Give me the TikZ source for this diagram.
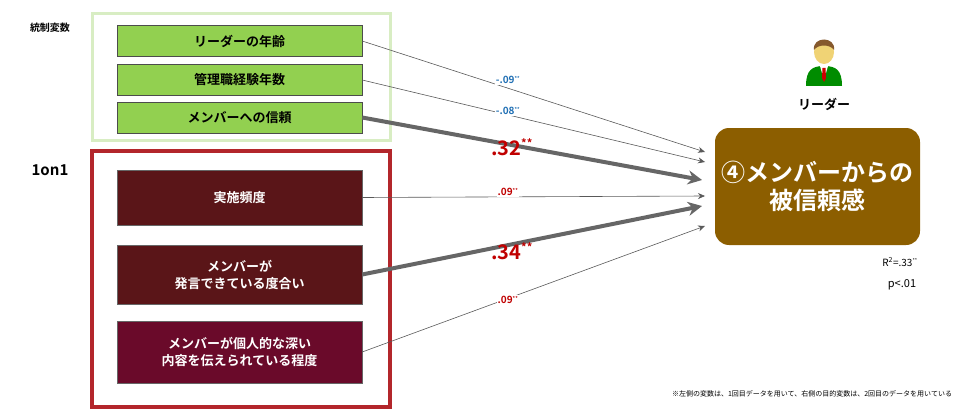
\documentclass[tikz,border=0pt]{standalone}
\usepackage{fontspec}
\setmainfont{Noto Sans CJK JP}[BoldFont={* Bold}]
\usetikzlibrary{arrows.meta}
\definecolor{lg}{HTML}{D8EDC3}
\definecolor{gbox}{HTML}{92D050}
\definecolor{rframe}{HTML}{B3262B}
\definecolor{dbox}{HTML}{5A1518}
\definecolor{dbox2}{HTML}{6A0A2A}
\definecolor{brn}{HTML}{8C5E00}
\definecolor{blu}{HTML}{1F6FB4}
\definecolor{rd}{HTML}{C00000}
\tikzset{
 gb/.style={draw=black!70,fill=gbox,minimum width=245pt,minimum height=31pt,font=\bfseries\fontsize{13}{15}\selectfont,inner sep=0},
 db/.style={draw=black!60,fill=dbox,text=white,minimum width=245pt,align=center,font=\bfseries\fontsize{13}{17}\selectfont,inner sep=0},
 thin/.style={draw=gray!70!black,line width=0.6pt,-{Stealth[length=7pt,width=6pt]}},
 thk/.style={draw=black!60,line width=4pt,-{Stealth[length=14pt,width=14pt]}},
 sl/.style={font=\bfseries\fontsize{10}{12}\selectfont},
 bl/.style={font=\bfseries\fontsize{20}{22}\selectfont,text=rd},
}
\begin{document}
\begin{tikzpicture}[x=1pt,y=-1pt]
\useasboundingbox (0,0) rectangle (980,420);
\draw[lg,line width=3pt] (92,14) rectangle (390,140);
\draw[rframe,line width=4pt] (92,151) rectangle (390,407);
\node[font=\bfseries\fontsize{10}{12}\selectfont] (t1) at (50,28) {統制変数};
\node[font=\bfseries\fontsize{15}{17}\selectfont] (t2) at (50,170) {1on1};
\node[gb] (a) at (239.5,41) {リーダーの年齢};
\node[gb] (b) at (239.5,80) {管理職経験年数};
\node[gb] (c) at (239.5,117.5) {メンバーへの信頼};
\node[db,minimum height=55pt] (d) at (239.5,197.5) {実施頻度};
\node[db,minimum height=59pt] (e) at (239.5,274.5) {メンバーが\\発言できている度合い};
\node[db,fill=dbox2,minimum height=62pt] (f) at (239.5,352) {メンバーが個人的な深い\\内容を伝えられている程度};
\node[fill=brn,rounded corners=14pt,minimum width=205pt,minimum height=117pt,text=white,align=center,font=\bfseries\fontsize{24}{28}\selectfont] (g) at (817.5,186.5) {④メンバーからの\\被信頼感};
\coordinate (g1) at (705,152);
\coordinate (g2) at (705,162);
\coordinate (g3) at (702,180);
\coordinate (g4) at (705,196);
\coordinate (g5) at (702,206);
\coordinate (g6) at (705,226);
\draw[thin] (a.east) -- (g1);
\draw[thin] (b.east) -- (g2);
\draw[thk] (c.east) -- (g3);
\draw[thin] (d.east) -- (g4);
\draw[thk] (e.east) -- (g5);
\draw[thin] (f.east) -- (g6);
\node[sl,text=blu,fill=white,inner sep=1pt] (l1) at (508,80) {-.09\textsuperscript{\tiny**}};
\node[sl,text=blu,fill=white,inner sep=1pt] (l2) at (508,111) {-.08\textsuperscript{\tiny**}};
\node[bl] (l3) at (512,147) {.32\textsuperscript{\fontsize{11}{11}\selectfont**}};
\node[sl,text=rd,fill=white,inner sep=1pt] (l4) at (508,192) {.09\textsuperscript{\tiny**}};
\node[bl] (l5) at (512,251) {.34\textsuperscript{\fontsize{11}{11}\selectfont**}};
\node[sl,text=rd,fill=white,inner sep=1pt] (l6) at (508,300) {.09\textsuperscript{\tiny**}};
\node[font=\fontsize{10}{12}\selectfont] (r2) at (900,262) {\textit{R}\textsuperscript{2}=.33\textsuperscript{\tiny**}};
\node[font=\fontsize{11}{12}\selectfont] (p) at (902,285) {\textit{p}<.01};
\node[font=\fontsize{7}{9}\selectfont] (fn) at (812,394) {※左側の変数は、1回目データを用いて、右側の目的変数は、2回目のデータを用いている};
\node[font=\bfseries\fontsize{13}{15}\selectfont] (ld) at (824,104) {リーダー};
% person icon
\fill[green!55!black] (806,86) .. controls (806,70) and (812,66) .. (824,66) .. controls (836,66) and (842,70) .. (842,86) -- cycle;
\fill[white] (820,66) -- (828,66) -- (824,80) -- cycle;
\fill[red!80!black] (822.5,68) -- (825.5,68) -- (826,78) -- (824,82) -- (822,78) -- cycle;
\fill[orange!30!yellow!60!brown!60] (824,52) ellipse (10pt and 12pt);
\fill[brown!70!black] (814,50) .. controls (812,36) and (836,36) .. (834,50) .. controls (830,44) and (818,44) .. (814,50) -- cycle;
\end{tikzpicture}
\end{document}
